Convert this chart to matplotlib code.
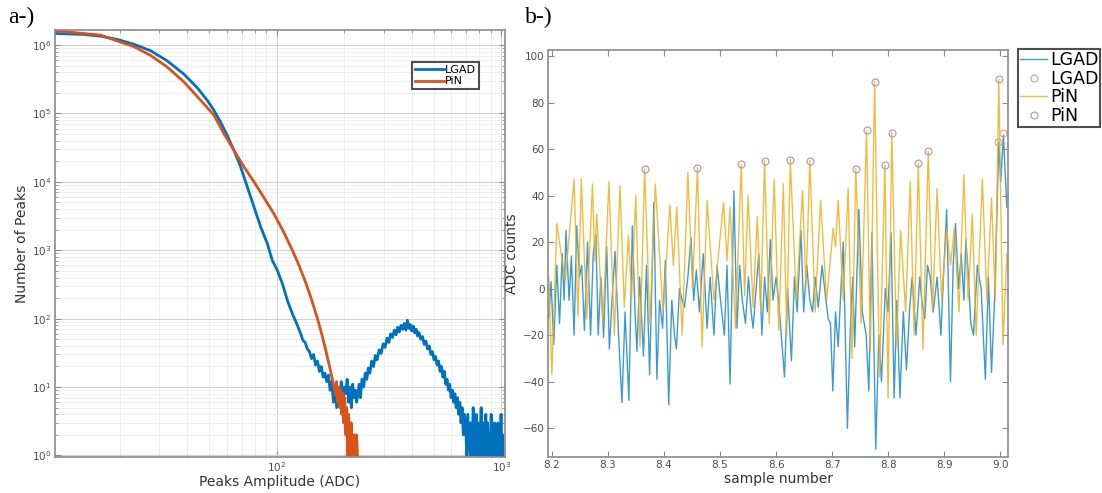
import matplotlib
matplotlib.use("Agg")
import matplotlib.pyplot as plt
from matplotlib.ticker import LogLocator, NullFormatter, MultipleLocator, FixedLocator

# ---- panel a: peak amplitude spectra ----
lgad_amp = [10.3, 13.8, 16.4, 19.5, 23.1, 27.4, 32.5, 38.6, 44.2, 49.0, 52.5, 56.2, 60.2,
            64.5, 69.1, 74.0, 79.3, 84.9, 90.9, 95.6, 100.7, 106, 111.6, 117.5, 123.7,
            128, 131, 134, 137, 140, 143, 146, 149, 152, 155, 158, 161, 164, 167, 170,
            173, 176, 179, 182, 185, 188, 191, 194, 197, 200, 203, 206, 209, 212, 215,
            218, 221, 224, 227, 230, 233, 236, 240, 244, 248, 252, 256, 260, 265, 270,
            275, 280, 286, 292, 298, 304, 310, 316, 322, 328, 334, 340, 346, 352, 358,
            364, 370, 376, 382, 388, 394, 400, 406, 412, 418, 424, 430, 438, 446, 454,
            462, 470, 478, 486, 494, 502, 510, 518, 526, 534, 542, 550, 558, 566, 574,
            582, 590, 598, 606, 614, 622, 630, 638, 646, 654, 662, 670, 678, 686, 694,
            702, 710, 718, 726, 734, 742, 750, 758, 766, 774, 782, 790, 798, 806, 814,
            822, 830, 838, 846, 854, 862, 870, 878, 886, 894, 902, 910, 918, 926, 934,
            942, 950, 958, 966, 974, 982, 990, 998, 1006, 1014, 1020]
lgad_cnt = [1.48e6, 1.43e6, 1.35e6, 1.21e6, 1.03e6, 8.3e5, 5.9e5, 3.77e5, 2.4e5, 1.57e5,
            1.12e5, 7.55e4, 4.8e4, 2.9e4, 1.66e4, 8.45e3, 4.3e3, 2.19e3, 1.25e3, 715, 509,
            325, 185, 118, 80,
            60, 48, 45, 36, 33, 26, 30, 21, 24, 17, 20, 14, 16, 12, 15,
            9, 12, 6, 10, 5, 9, 7, 12, 6, 10, 8, 13, 6, 10, 5,
            11, 7, 9, 6, 8, 11, 7, 13, 10, 16, 13, 19, 16, 24, 20,
            29, 25, 35, 31, 43, 38, 52, 45, 60, 53, 68, 58, 75, 64, 80,
            70, 85, 68, 95, 72, 82, 66, 78, 62, 70, 56, 63, 50, 55, 42,
            47, 36, 40, 30, 33, 25, 28, 21, 24, 17, 20, 14, 17, 11, 13,
            9, 11, 7, 9, 6, 8, 5, 7, 4, 6, 3, 5, 2, 4, 3,
            1, 4, 2, 1, 3, 1, 5, 2, 1, 4, 1, 3, 1, 2, 5,
            1, 3, 1, 2, 4, 1, 3, 1, 2, 1, 4, 1, 2, 1, 3,
            1, 2, 1, 3, 1, 2, 1, 4, 1, 2, 1]

pin_amp = [10.3, 16.4, 23.1, 27.4, 32.5, 38.6, 45.8, 52.5, 58.2, 64.5, 71.5, 79.3, 88.0,
           97.3, 107, 117.5, 126, 134.7, 143, 152, 158, 165, 172, 178, 183,
           185, 187, 189, 191, 193, 195, 197, 199, 201, 203, 205, 207, 209, 211, 213,
           215, 217, 219, 221, 223, 225, 227, 229]
pin_cnt = [1.62e6, 1.40e6, 9.5e5, 7.1e5, 4.8e5, 2.9e5, 1.57e5, 9.5e4, 5.1e4, 2.9e4, 1.66e4,
           1.0e4, 5.8e3, 3.4e3, 1.9e3, 1.0e3, 593, 336, 190, 100, 63, 36, 20, 12, 7.7,
           12, 6, 10, 5, 9, 4, 8, 3, 7, 2, 5, 1, 4, 2, 1,
           3, 1, 2, 1, 2, 1, 2, 1]

# ---- panel b: waveform traces ----
lgad_t = [8.1945, 8.1986, 8.2034, 8.2089, 8.2137, 8.2185, 8.2219, 8.2253, 8.2308, 8.2349,
          8.2397, 8.2444, 8.2492, 8.2533, 8.2581, 8.2636, 8.2691, 8.2738, 8.2786, 8.2827,
          8.2875, 8.2923, 8.2978, 8.3026, 8.3074, 8.3128, 8.3190, 8.3251, 8.3306, 8.3374,
          8.3436, 8.3484, 8.3518, 8.3566, 8.3634, 8.3689, 8.3744, 8.3819, 8.3874, 8.3921,
          8.3976, 8.4024, 8.4085, 8.4140, 8.4188, 8.4222, 8.4277, 8.4325, 8.4366, 8.4427,
          8.4482, 8.4530, 8.4578, 8.4632, 8.4701, 8.4769, 8.4824, 8.4892, 8.4947, 8.5009,
          8.5077, 8.5125, 8.5179, 8.5248, 8.5303, 8.5350, 8.5398, 8.5453, 8.5508, 8.5556,
          8.5590, 8.5644, 8.5692, 8.5747, 8.5795, 8.5843, 8.5897, 8.5945, 8.6000, 8.6055,
          8.6150, 8.6205, 8.6274, 8.6328, 8.6376, 8.6444, 8.6492, 8.6547, 8.6602, 8.6650,
          8.6697, 8.6752, 8.6821, 8.6889, 8.6930, 8.6971, 8.7012, 8.7060, 8.7108, 8.7197,
          8.7272, 8.7327, 8.7368, 8.7402, 8.7477, 8.7538, 8.7607, 8.7655, 8.7709, 8.7778,
          8.7832, 8.7880, 8.7949, 8.7997, 8.8051, 8.8106, 8.8154, 8.8209, 8.8270, 8.8325,
          8.8379, 8.8427, 8.8496, 8.8564, 8.8598, 8.8653, 8.8701, 8.8749, 8.8803, 8.8872,
          8.8940, 8.8995, 8.9043, 8.9111, 8.9159, 8.9200, 8.9255, 8.9303, 8.9350, 8.9385,
          8.9432, 8.9474, 8.9521, 8.9590, 8.9658, 8.9733, 8.9788, 8.9843, 8.9897, 8.9973,
          9.0007, 9.0055, 9.0116]
lgad_v = [-12, 3, -24, 10, -15, 15, -5, 25, -5, 14,
          -20, 27, 5, 10, -18, 20, -20, 15, 23, -20,
          5, -21, 18, -26, -5, 16, -20, -49, -10, -48,
          27, -10, -27, 5, -29, 10, -37, 37, -39, -5,
          -17, 12, -50, -5, -20, -26, 0, -5, -8, 5,
          22, -5, 8, -10, 15, -17, 5, -20, 10, -5,
          -20, 10, -41, 42, -17, 10, -5, -15, 5, -10,
          -17, 0, 15, -20, 5, -10, 21, -5, 5, -8,
          -38, 0, -31, 5, -10, 25, -10, 10, -5, -10,
          5, -8, 10, -5, -13, -15, -44, -10, -25, 20,
          -60, -15, 5, -25, 34, -10, -20, -44, 24, -69,
          -20, -40, 0, -10, 24, -47, -5, -47, -10, -35,
          -10, 5, -20, 5, -5, -13, 10, 5, -10, 5,
          -20, 10, 34, -40, 10, 28, 0, 15, -5, 21,
          5, -15, -20, 10, 0, -39, 5, -36, -5, 63,
          46, 66, 35]

pin_t = [8.1945, 8.2000, 8.2089, 8.2239, 8.2397, 8.2465, 8.2526, 8.2622, 8.2725, 8.2766,
         8.2800, 8.2909, 8.3019, 8.3115, 8.3217, 8.3292, 8.3368, 8.3422, 8.3497, 8.3573,
         8.3655, 8.3750, 8.3846, 8.3983, 8.4106, 8.4168, 8.4229, 8.4325, 8.4427, 8.4509,
         8.4598, 8.4680, 8.4769, 8.4892, 8.5063, 8.5125, 8.5179, 8.5275, 8.5378, 8.5439,
         8.5501, 8.5590, 8.5665, 8.5726, 8.5795, 8.5877, 8.5966, 8.6048, 8.6130, 8.6191,
         8.6253, 8.6362, 8.6472, 8.6533, 8.6602, 8.6697, 8.6793, 8.6903, 8.7019, 8.7060,
         8.7108, 8.7197, 8.7285, 8.7354, 8.7422, 8.7518, 8.7614, 8.7682, 8.7757, 8.7846,
         8.7942, 8.7997, 8.8065, 8.8147, 8.8222, 8.8311, 8.8393, 8.8462, 8.8537, 8.8619,
         8.8715, 8.8790, 8.8872, 8.8954, 8.9043, 8.9111, 8.9179, 8.9262, 8.9350, 8.9426,
         8.9501, 8.9569, 8.9679, 8.9761, 8.9843, 8.9911, 8.9973, 9.0048, 9.0116]
pin_v = [5, -37, 28, 3, 47, -12, 47, -13, 45, 12,
         32, -15, 46, -20, 44, -8, 23, -5, 40, -25,
         51.5, -15, 45, -10, 36, 10, 35, -20, 50, 0,
         52, -25, 38, -5, 37, 12, 35, -17, 53.5, -3,
         40, -8, 31, -10, 55, -15, 47, -18, 45, -20,
         55.5, -5, 42, 0, 55, -10, 38, -5, 26, 18,
         38, -5, 43, -30, 51.5, -15, 68, -27, 89, -38,
         53, -47, 67, -25, 25, -10, 46, -20, 54, -26,
         59, -10, 43, -5, 26, 10, 26, -10, 49, -5,
         32, -20, 47, -5, 39, -5, 90, -24, 15]

# detected peaks (circles)
pin_pk_t = [8.3655, 8.4598, 8.5378, 8.5795, 8.6253, 8.6602, 8.7422, 8.7614, 8.7757,
            8.7942, 8.8065, 8.8537, 8.8715, 8.9973]
pin_pk_v = [51.5, 52, 53.5, 55, 55.5, 55, 51.5, 68, 89, 53, 67, 54, 59, 90]
lgad_pk_t = [8.9952, 9.0055]
lgad_pk_v = [63, 67]

blue = '#0072BD'
orange = '#D95319'
yellow = '#EDB120'
frame = '#8a8a8a'
tickc = '#4a4a4a'

fig = plt.figure(figsize=(11.02, 4.93), dpi=100)

# ---------------- a-) ----------------
ax1 = fig.add_axes([0.0499, 0.0730, 0.4084, 0.8661])
ax1.plot(lgad_amp, lgad_cnt, color=blue, lw=2.0, label='LGAD')
ax1.plot(pin_amp, pin_cnt, color=orange, lw=2.0, label='PiN')
ax1.set_xscale('log')
ax1.set_yscale('log')
ax1.set_xlim(10.3, 1040)
ax1.set_ylim(0.95, 1.66e6)
ax1.xaxis.set_major_locator(FixedLocator([100, 1000]))
ax1.xaxis.set_minor_locator(FixedLocator([20, 30, 40, 50, 60, 70, 80, 90,
                                          200, 300, 400, 500, 600, 700, 800, 900]))
ax1.xaxis.set_minor_formatter(NullFormatter())
ax1.yaxis.set_major_locator(FixedLocator([1, 10, 100, 1e3, 1e4, 1e5, 1e6]))
ax1.yaxis.set_minor_locator(LogLocator(base=10, subs=range(2, 10), numticks=10))
ax1.yaxis.set_minor_formatter(NullFormatter())
ax1.grid(True, which='major', color='#d0d0d0', lw=0.7)
ax1.grid(True, which='minor', color='#e8e8e8', lw=0.5)
ax1.set_axisbelow(True)
ax1.tick_params(which='both', direction='in', top=True, right=True, colors=frame,
                labelcolor=tickc, labelsize=7.5, pad=2.5)
ax1.tick_params(which='major', length=4)
ax1.tick_params(which='minor', length=2)
for s in ax1.spines.values():
    s.set_color(frame)
    s.set_linewidth(1.2)
ax1.set_xlabel('Peaks Amplitude (ADC)', fontsize=10, color='#333333', labelpad=0.5)
ax1.set_ylabel('Number of Peaks', fontsize=10, color='#333333', labelpad=2)
leg1 = ax1.legend(loc='upper right', bbox_to_anchor=(0.942, 0.925), fontsize=8,
                  frameon=True, fancybox=False, handlelength=2.6, handletextpad=0.1,
                  borderpad=0.25, labelspacing=0.15, borderaxespad=0)
leg1.get_frame().set_edgecolor('#222222')
leg1.get_frame().set_linewidth(1.5)

# ---------------- b-) ----------------
ax2 = fig.add_axes([0.4973, 0.0730, 0.4174, 0.8256])
ax2.plot(lgad_t, lgad_v, color='#3d9ad1', lw=1.0, label='LGAD')
ax2.plot(lgad_pk_t, lgad_pk_v, 'o', ms=5, mfc='none', mec='#e39a8c', mew=0.8, label='LGAD')
ax2.plot(pin_t, pin_v, color=yellow, lw=1.0, alpha=0.85, label='PiN')
ax2.plot(pin_pk_t, pin_pk_v, 'o', ms=5, mfc='none', mec='#b78fb0', mew=0.8, label='PiN')
ax2.set_xlim(8.1932, 9.0137)
ax2.set_ylim(-72.4, 102.6)
ax2.xaxis.set_major_locator(FixedLocator([8.2, 8.3, 8.4, 8.5, 8.6, 8.7, 8.8, 8.9, 9.0]))
ax2.yaxis.set_major_locator(MultipleLocator(20))
ax2.xaxis.set_major_formatter(plt.FormatStrFormatter('%.1f'))
ax2.tick_params(direction='in', top=True, right=True, colors=frame, labelcolor=tickc,
                labelsize=7.5, length=4, pad=2.5)
for s in ax2.spines.values():
    s.set_color(frame)
    s.set_linewidth(1.2)
ax2.set_xlabel('sample number', fontsize=10, color='#333333', labelpad=1)
ax2.set_ylabel('ADC counts', fontsize=10, color='#333333', labelpad=3)
leg2 = ax2.legend(loc='upper left', bbox_to_anchor=(1.0217, 1.0025), fontsize=12.5,
                  frameon=True, fancybox=False, handlelength=1.6, handletextpad=0.15,
                  borderpad=0.1, labelspacing=0.05, borderaxespad=0)
leg2.get_frame().set_edgecolor('#222222')
leg2.get_frame().set_linewidth(1.5)

fig.text(0.007, 0.965, 'a-)', fontsize=17, family='Liberation Serif', va='center')
fig.text(0.476, 0.965, 'b-)', fontsize=17, family='Liberation Serif', va='center')

fig.savefig('out.png', dpi=100)
